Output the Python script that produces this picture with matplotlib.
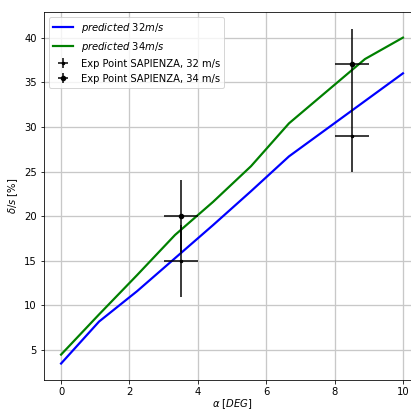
import numpy as np
import matplotlib
matplotlib.use('Agg')
import matplotlib.pyplot as plt

# predicted curves
alpha = np.linspace(0, 10, 10)
delta_32 = [3.5, 8.2, 11.6, 15.3, 19.0, 22.8, 26.7, 29.8, 32.9, 36.0]
delta_34 = [4.5, 9.0, 13.4, 17.9, 21.6, 25.6, 30.4, 34.0, 37.6, 40.0]

# experimental points
exp_alpha = [3.5, 8.5]
exp_32 = [15, 29]
exp_34 = [20, 37]
x_err = 0.5
y_err = 4

fig = plt.figure(figsize=(411 / 72, 412 / 72), dpi=72)
ax = fig.add_axes([0.107, 0.077, 0.915, 0.894])

ax.plot(alpha, delta_32, color='blue', lw=2.2, label=r'$predicted\ 32m/s$')
ax.plot(alpha, delta_34, color='green', lw=2.2, label=r'$predicted\ 34m/s$')
ax.errorbar(exp_alpha, exp_32, xerr=x_err, yerr=y_err, fmt='k.', ms=5,
            label='Exp Point SAPIENZA, 32 m/s')
ax.errorbar(exp_alpha, exp_34, xerr=x_err, yerr=y_err, fmt='ko', ms=4.5,
            label='Exp Point SAPIENZA, 34 m/s')

ax.set_xlim(-0.5, 10.5)
ax.set_ylim(1.625, 42.875)
ax.set_yticks([5, 10, 15, 20, 25, 30, 35, 40])
ax.set_xlabel(r'$\alpha\ [DEG]$', labelpad=0)
ax.set_ylabel(r'$\delta/s\ [\%]$')
ax.grid(True, color='#c8c8c8', linewidth=1.3)
ax.legend(loc='upper left')

plt.savefig('out.png', dpi=72)
